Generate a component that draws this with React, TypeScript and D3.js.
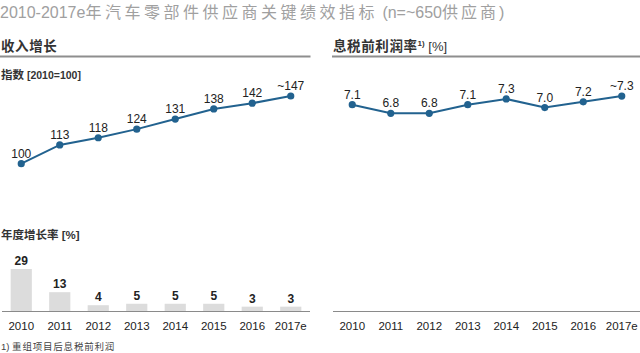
import * as d3 from "d3";

const years = ["2010", "2011", "2012", "2013", "2014", "2015", "2016", "2017e"];
const revenueIndex = [100, 113, 118, 124, 131, 138, 142, 147];
const revenueLabels = ["100", "113", "118", "124", "131", "138", "142", "~147"];
const growth = [29, 13, 4, 5, 5, 5, 3, 3];
const ebitMargin = [7.1, 6.8, 6.8, 7.1, 7.3, 7.0, 7.2, 7.4];
const ebitLabels = ["7.1", "6.8", "6.8", "7.1", "7.3", "7.0", "7.2", "~7.3"];

const W = 640, H = 353;
const LINE = "#22628f";
const SANS = "Arial, 'Liberation Sans', 'Noto Sans CJK SC', sans-serif";
const CJK = "'Noto Sans CJK SC', sans-serif";

// Line panel with dots and value labels above each point
function LinePanel({ x, y, values, labels }: {
  x: d3.ScaleBand<string>;
  y: d3.ScaleLinear<number, number>;
  values: number[];
  labels: string[];
}) {
  const cx = (i: number) => (x(years[i]) ?? 0) + x.bandwidth() / 2;
  const line = d3.line<number>().x((_, i) => cx(i)).y((v) => y(v));
  return (
    <g>
      <path d={line(values) ?? ""} fill="none" stroke={LINE} strokeWidth={2} />
      {values.map((v, i) => (
        <g key={i}>
          <circle cx={cx(i)} cy={y(v)} r={3.6} fill={LINE} />
          <text x={cx(i)} y={y(v) - 6} textAnchor="middle" fontSize="12" fontFamily={SANS} fill="#222">{labels[i]}</text>
        </g>
      ))}
    </g>
  );
}

export default function App() {
  const xl = d3.scaleBand<string>().domain(years).range([2, 310]).paddingInner(0.45).paddingOuter(0.225);
  const xr = d3.scaleBand<string>().domain(years).range([333, 641]).paddingInner(0.45).paddingOuter(0.225);
  const yIdx = d3.scaleLinear().domain([100, 147]).range([163.7, 96]);
  const yEbit = d3.scaleLinear().domain([6.8, 7.1]).range([113.3, 104.7]);
  const yBar = d3.scaleLinear().domain([0, 29]).range([311, 269]);
  const base = yBar(0);

  return (
    <div style={{ position: "absolute", left: 0, top: 0 }}>
      <svg width={W} height={H} style={{ display: "block", background: "#fff" }}>
        {/* title */}
        <text x={0} y={18} fontSize="16" fill="#a0a0a0" fontFamily={SANS}>
          <tspan>2010-2017e</tspan>
          <tspan fontFamily={CJK} letterSpacing="3.5">年汽车零部件供应商关键绩效指标</tspan>
          <tspan> (n=~650</tspan>
          <tspan fontFamily={CJK} letterSpacing="3">供应商</tspan>
          <tspan>)</tspan>
        </text>

        {/* section headers */}
        <text x={1} y={51} fontSize="13.5" fontWeight="bold" fill="#333" fontFamily={CJK} letterSpacing="0.6">收入增长</text>
        <line x1={0} x2={310.5} y1={56.5} y2={56.5} stroke="#8e8e8e" strokeWidth={2} />
        <text x={333} y={51} fontSize="13.5" fill="#333" fontFamily={CJK} letterSpacing="0.6">
          <tspan fontWeight="bold">息税前利润率</tspan>
          <tspan fontSize="8" dy="-5" fontWeight="bold" fontFamily={SANS} letterSpacing="0">1)</tspan>
          <tspan dy="5" fontFamily={SANS} fontSize="13" letterSpacing="0"> [%]</tspan>
        </text>
        <line x1={332} x2={640} y1={56.5} y2={56.5} stroke="#8e8e8e" strokeWidth={2} />

        <text x={1} y={79} fontSize="10.5" fontWeight="bold" fill="#333" fontFamily={SANS}>
          <tspan fontFamily={CJK} fontSize="11.5">指数</tspan> [2010=100]
        </text>

        <LinePanel x={xl} y={yIdx} values={revenueIndex} labels={revenueLabels} />
        <LinePanel x={xr} y={yEbit} values={ebitMargin} labels={ebitLabels} />

        {/* annual growth bars */}
        <text x={1} y={239} fontSize="11.5" fontWeight="bold" fill="#333" fontFamily={SANS}>
          <tspan fontFamily={CJK}>年度增长率</tspan> [%]
        </text>
        {growth.map((g, i) => {
          const bx = xl(years[i]) ?? 0;
          return (
            <g key={i}>
              <rect x={bx} y={yBar(g)} width={xl.bandwidth()} height={base - yBar(g)} fill="#dcdcdc" />
              <text x={bx + xl.bandwidth() / 2} y={yBar(g) - 4} textAnchor="middle" fontSize="12" fontWeight="bold" fill="#222" fontFamily={SANS}>{g}</text>
            </g>
          );
        })}

        {/* baselines + year labels */}
        <line x1={2} x2={310} y1={base + 0.5} y2={base + 0.5} stroke="#8a8a8a" />
        <line x1={333} x2={640} y1={base + 0.5} y2={base + 0.5} stroke="#8a8a8a" />
        {years.map((yr) => (
          <g key={yr}>
            <text x={(xl(yr) ?? 0) + xl.bandwidth() / 2} y={330} textAnchor="middle" fontSize="11.5" fill="#222" fontFamily={SANS}>{yr}</text>
            <text x={(xr(yr) ?? 0) + xr.bandwidth() / 2} y={330} textAnchor="middle" fontSize="11.5" fill="#222" fontFamily={SANS}>{yr}</text>
          </g>
        ))}

        {/* footnote */}
        <text x={1} y={350} fontSize="9.5" fill="#444" fontFamily={SANS}>
          1) <tspan fontFamily={CJK} letterSpacing="0.8">重组项目后息税前利润</tspan>
        </text>
      </svg>
    </div>
  );
}
